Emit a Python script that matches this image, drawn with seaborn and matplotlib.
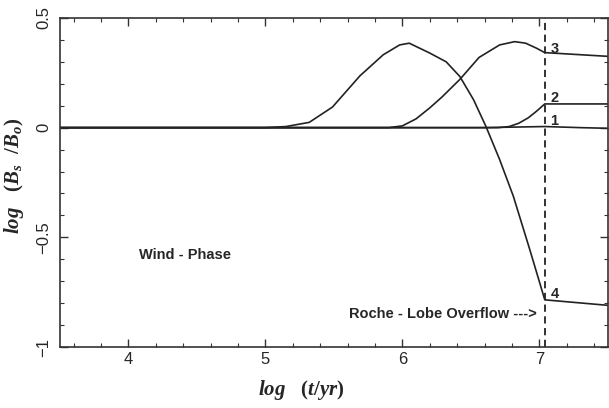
import numpy as np
import pandas as pd
import seaborn as sns
import matplotlib.pyplot as plt
from matplotlib.ticker import MultipleLocator

# ==============================
# DATA
# ==============================

x1 = [3.5, 6.6, 7.04, 7.3, 7.5]
y1 = [0.0, 0.0, 0.005, 0.0, -0.003]

x2 = [3.5, 6.7, 6.78, 6.85, 6.92, 6.98, 7.04, 7.5]
y2 = [0.0, 0.0, 0.005, 0.02, 0.045, 0.075, 0.108, 0.108]

x3 = [3.5, 5.9, 6.0, 6.1, 6.2, 6.29, 6.42, 6.56, 6.71, 6.82, 6.90, 6.98, 7.04, 7.5]
y3 = [0.0, 0.0, 0.008, 0.04, 0.09, 0.14, 0.22, 0.32, 0.377, 0.392, 0.385, 0.362, 0.342, 0.325]

x4 = [3.5, 5.0, 5.15, 5.32, 5.49, 5.69, 5.86, 5.98, 6.05, 6.20, 6.32, 6.42,
      6.52, 6.61, 6.71, 6.81, 6.93, 7.04, 7.5]
y4 = [0.0, 0.0, 0.005, 0.024, 0.094, 0.236, 0.332, 0.377, 0.385, 0.34, 0.30, 0.233,
      0.127, 0.006, -0.145, -0.312, -0.555, -0.785, -0.81]

curve_labels = ["1", "2", "3", "4"]
label_y = [0.03, 0.135, 0.36, -0.76]
roche_x = 7.04

# ==============================
# STYLE
# ==============================

sns.set_style("ticks")
plt.rcParams['font.family'] = ['Liberation Sans', 'DejaVu Sans']
plt.rcParams['mathtext.fontset'] = 'custom'
plt.rcParams['mathtext.it'] = 'Liberation Serif:italic:bold'
plt.rcParams['mathtext.rm'] = 'Liberation Serif:bold'

fig = plt.figure(figsize=(6.09, 4.08), dpi=100)
ax = fig.add_axes([0.0985, 0.1495, 0.8995, 0.8065])

for xs, ys in [(x1, y1), (x2, y2), (x3, y3), (x4, y4)]:
    df = pd.DataFrame({"x": xs, "y": ys})
    sns.lineplot(data=df, x="x", y="y", ax=ax, color="#222222", lw=1.2,
                 estimator=None, sort=False)

ax.axvline(roche_x, color="#222222", lw=1.3, ls=(0, (4, 2.5)))

for lab, yy in zip(curve_labels, label_y):
    ax.text(7.08, yy, lab, fontsize=10.5, fontweight="bold", ha="left", va="center")

ax.text(4.08, -0.58, "Wind - Phase", fontsize=10.5, fontweight="bold", va="center")
ax.text(6.98, -0.85, "Roche - Lobe Overflow --->", fontsize=10.5, fontweight="bold",
        va="center", ha="right")

ax.set_xlim(3.5, 7.5)
ax.set_ylim(-1, 0.5)
ax.set_xticks([4, 5, 6, 7])
ax.set_yticks([0.5, 0, -0.5, -1])
ax.set_yticklabels(["0.5", "0", "\u22120.5", "\u22121"], rotation=90, va="center")
ax.xaxis.set_minor_locator(MultipleLocator(0.2))
ax.yaxis.set_minor_locator(MultipleLocator(0.1))
ax.tick_params(which="both", direction="in", top=True, right=True, labelsize=12,
               color="#333333")
ax.tick_params(which="major", length=6, width=1)
ax.tick_params(which="minor", length=3, width=0.8)
ax.tick_params(axis="y", pad=6)
for s in ax.spines.values():
    s.set_linewidth(1.2)
    s.set_color("#333333")

ax.set_xlabel(r"$log\ \ \ (t/yr)$", fontsize=15)
ax.set_ylabel(r"$log\ \ \ (B_s\ \ /B_o)$", fontsize=15)
ax.xaxis.set_label_coords(0.44, -0.095)
ax.yaxis.set_label_coords(-0.062, 0.52)

fig.savefig("out.png", dpi=100)
plt.close()
